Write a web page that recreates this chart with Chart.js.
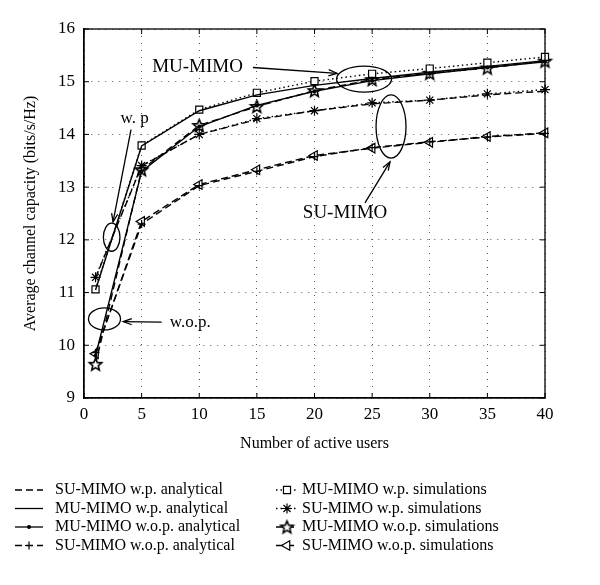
<!DOCTYPE html>
<html lang="en">
<head>
<meta charset="UTF-8">
<title>Average channel capacity vs number of active users</title>
<script src="https://cdn.jsdelivr.net/npm/chart.js"></script>
<style>
  body { margin: 0; background: #fff; }
  #wrap { width: 600px; height: 585px; position: relative; }
</style>
</head>
<body>
<div id="wrap"><canvas id="capacityChart"></canvas></div>
<script>
// values
const users = [1, 5, 10, 15, 20, 25, 30, 35, 40]
const xTicks = [0, 5, 10, 15, 20, 25, 30, 35, 40]
const yTicks = [9, 10, 11, 12, 13, 14, 15, 16]

const suWpAnalytical = [11.28, 13.40, 14.00, 14.28, 14.45, 14.58, 14.65, 14.75, 14.82]
const muWpAnalytical = [11.05, 13.78, 14.45, 14.75, 14.93, 15.06, 15.18, 15.29, 15.40]
const muWopAnalytical = [9.80, 13.30, 14.15, 14.55, 14.82, 15.02, 15.15, 15.27, 15.38]
const suWopAnalytical = [9.86, 12.30, 13.03, 13.30, 13.58, 13.75, 13.86, 13.95, 14.02]
const muWpSim = [11.06, 13.79, 14.47, 14.79, 15.01, 15.15, 15.25, 15.36, 15.47]
const suWpSim = [11.29, 13.41, 14.00, 14.30, 14.45, 14.60, 14.65, 14.77, 14.85]
const muWopSim = [9.64, 13.33, 14.17, 14.53, 14.83, 15.04, 15.16, 15.26, 15.39]
const suWopSim = [9.84, 12.35, 13.05, 13.33, 13.60, 13.74, 13.85, 13.96, 14.03]

const seriesLabels = [
  "SU-MIMO w.p. analytical",
  "MU-MIMO w.p. analytical",
  "MU-MIMO w.o.p. analytical",
  "SU-MIMO w.o.p. analytical",
  "MU-MIMO w.p. simulations",
  "SU-MIMO w.p. simulations",
  "MU-MIMO w.o.p. simulations",
  "SU-MIMO w.o.p. simulations",
]

const SERIF = "'Liberation Serif', 'DejaVu Serif', serif"
const DASH = [7, 4]
const DOT = [1.5, 3]

// five pointed star outline, used as a point image
function starImage(r) {
  const c = document.createElement("canvas")
  const s = Math.ceil(r * 2 + 4)
  c.width = s
  c.height = s
  const g = c.getContext("2d")
  g.beginPath()
  for (let i = 0; i < 10; i++) {
    const rr = i % 2 ? r * 0.45 : r
    const a = -Math.PI / 2 + (i * Math.PI) / 5
    g.lineTo(s / 2 + rr * Math.cos(a), s / 2 + 0.5 + rr * Math.sin(a))
  }
  g.closePath()
  g.fillStyle = "#fff"
  g.fill()
  g.lineWidth = 1.6
  g.lineJoin = "miter"
  g.strokeStyle = "#000"
  g.stroke()
  return c
}

const toPoints = (ys) => users.map((x, i) => ({ x, y: ys[i] }))

function series(label, ys, dash, pointStyle, radius, extra = {}) {
  return {
    label,
    data: toPoints(ys),
    borderColor: "#000",
    backgroundColor: "#fff",
    borderWidth: 1.4,
    borderDash: dash,
    pointStyle: pointStyle || false,
    pointRadius: pointStyle ? radius : 0,
    pointBorderColor: "#000",
    pointBackgroundColor: "#fff",
    pointBorderWidth: 1.2,
    tension: 0,
    clip: false,
    ...extra,
  }
}

const star = starImage(6.5)

const datasets = [
  series(seriesLabels[0], suWpAnalytical, DASH, null, 0),
  series(seriesLabels[1], muWpAnalytical, [], null, 0),
  series(seriesLabels[2], muWopAnalytical, [], "circle", 1.4, { pointBackgroundColor: "#000" }),
  series(seriesLabels[3], suWopAnalytical, DASH, "cross", 4),
  series(seriesLabels[4], muWpSim, DOT, "rect", 5),
  series(seriesLabels[5], suWpSim, DOT, "star", 5),
  series(seriesLabels[6], muWopSim, DASH, star, 6.5),
  series(seriesLabels[7], suWopSim, DASH, "triangle", 5.5, { pointRotation: -90 }),
]

// closes the frame and puts the small inward ticks on all four sides
const frame = {
  id: "frame",
  afterDatasetsDraw(chart) {
    const { ctx, chartArea: a, scales } = chart
    ctx.save()
    ctx.strokeStyle = "#000"
    ctx.lineWidth = 1.3
    ctx.setLineDash([])
    ctx.strokeRect(a.left, a.top, a.right - a.left, a.bottom - a.top)
    ctx.lineWidth = 1
    ctx.beginPath()
    xTicks.forEach((v) => {
      const px = scales.x.getPixelForValue(v)
      ctx.moveTo(px, a.bottom); ctx.lineTo(px, a.bottom - 5)
      ctx.moveTo(px, a.top); ctx.lineTo(px, a.top + 5)
    })
    yTicks.forEach((v) => {
      const py = scales.y.getPixelForValue(v)
      ctx.moveTo(a.left, py); ctx.lineTo(a.left + 5, py)
      ctx.moveTo(a.right, py); ctx.lineTo(a.right - 5, py)
    })
    ctx.stroke()
    ctx.restore()
  },
}

function arrow(ctx, x1, y1, x2, y2) {
  ctx.beginPath()
  ctx.moveTo(x1, y1)
  ctx.lineTo(x2, y2)
  ctx.stroke()
  const a = Math.atan2(y2 - y1, x2 - x1)
  const h = 9
  ctx.beginPath()
  ctx.moveTo(x2 - h * Math.cos(a - 0.35), y2 - h * Math.sin(a - 0.35))
  ctx.lineTo(x2, y2)
  ctx.lineTo(x2 - h * Math.cos(a + 0.35), y2 - h * Math.sin(a + 0.35))
  ctx.stroke()
}

// callouts, placed in data units
const callouts = {
  id: "callouts",
  afterDraw(chart) {
    const { ctx, scales } = chart
    const X = (v) => scales.x.getPixelForValue(v)
    const Y = (v) => scales.y.getPixelForValue(v)
    const ell = (cx, cy, rx, ry) => {
      const px = X(cx), py = Y(cy)
      ctx.beginPath()
      ctx.ellipse(px, py, X(cx + rx) - px, py - Y(cy + ry), 0, 0, Math.PI * 2)
      ctx.stroke()
    }
    ctx.save()
    ctx.strokeStyle = "#000"
    ctx.fillStyle = "#000"
    ctx.lineWidth = 1.3
    ctx.setLineDash([])
    ctx.textBaseline = "middle"

    ctx.font = "19px " + SERIF
    ctx.textAlign = "center"
    ctx.fillText("MU-MIMO", X(9.85), Y(15.27))
    ctx.fillText("SU-MIMO", X(22.65), Y(12.51))
    arrow(ctx, X(14.66), Y(15.27), X(21.95), Y(15.16))
    ell(24.3, 15.05, 2.39, 0.247)
    ell(26.64, 14.15, 1.3, 0.6)
    arrow(ctx, X(24.38), Y(12.7), X(26.55), Y(13.48))

    ctx.font = "17px " + SERIF
    ctx.fillText("w. p", X(4.4), Y(14.3))
    arrow(ctx, X(4.08), Y(14.09), X(2.52), Y(12.34))
    ell(2.4, 12.05, 0.72, 0.266)

    ctx.textAlign = "left"
    ctx.fillText("w.o.p.", X(7.45), Y(10.43))
    arrow(ctx, X(6.74), Y(10.44), X(3.41), Y(10.45))
    ell(1.78, 10.5, 1.39, 0.209)
    ctx.restore()
  },
}

// two column legend below the axes, filled column by column
const legendBelow = {
  id: "legendBelow",
  afterDraw(chart) {
    const { ctx } = chart
    const rowY = [490, 508.5, 527, 545.5]
    ctx.save()
    ctx.font = "16px " + SERIF
    ctx.textBaseline = "middle"
    ctx.textAlign = "left"
    chart.data.datasets.forEach((ds, i) => {
      const col = i < 4 ? 0 : 1
      const y = rowY[i % 4]
      const x0 = col ? 276 : 15
      const x1 = col ? 298 : 43
      const tx = col ? 302 : 55
      ctx.strokeStyle = "#000"
      ctx.lineWidth = 1.3
      ctx.setLineDash(ds.borderDash || [])
      ctx.beginPath()
      ctx.moveTo(x0, y)
      ctx.lineTo(x1, y)
      ctx.stroke()
      ctx.setLineDash([])
      if (ds.pointStyle) {
        ctx.fillStyle = ds.pointBackgroundColor
        ctx.strokeStyle = "#000"
        ctx.lineWidth = 1.2
        Chart.helpers.drawPoint(ctx, {
          pointStyle: ds.pointStyle,
          radius: ds.pointRadius,
          rotation: ds.pointRotation || 0,
          borderWidth: 1.2,
        }, (x0 + x1) / 2, y)
      }
      ctx.fillStyle = "#000"
      ctx.fillText(ds.label, tx, y)
    })
    ctx.restore()
  },
}

const ctx = document.getElementById("capacityChart").getContext("2d")
const capacityChart = new Chart(ctx, {
  type: "line",
  data: { datasets },
  options: {
    responsive: true,
    maintainAspectRatio: false,
    animation: false,
    events: [],
    layout: { padding: { top: 29, right: 55, bottom: 127, left: 0 } },
    plugins: { legend: { display: false }, tooltip: { enabled: false } },
    scales: {
      x: {
        type: "linear",
        min: 0,
        max: 40,
        afterFit: (s) => { s.height = 60 },
        afterBuildTicks: (s) => { s.ticks = xTicks.map((v) => ({ value: v })) },
        ticks: { color: "#000", padding: 6, font: { family: SERIF, size: 17 } },
        grid: { color: "#555", lineWidth: 1, drawTicks: false },
        border: { display: true, color: "#000", width: 1.3, dash: [1, 6] },
        title: {
          display: true,
          text: "Number of active users",
          color: "#000",
          font: { family: SERIF, size: 16 },
          padding: { top: 0, bottom: 5 },
        },
      },
      y: {
        type: "linear",
        min: 9,
        max: 16,
        afterFit: (s) => { s.width = 84 },
        afterBuildTicks: (s) => { s.ticks = yTicks.map((v) => ({ value: v })) },
        ticks: { color: "#000", padding: 9, font: { family: SERIF, size: 17 } },
        grid: { color: "#555", lineWidth: 1, drawTicks: false },
        border: { display: true, color: "#000", width: 1.3, dash: [1, 6] },
        title: {
          display: true,
          text: "Average channel capacity (bits/s/Hz)",
          color: "#000",
          font: { family: SERIF, size: 16 },
          padding: { top: 21, bottom: 0 },
        },
      },
    },
  },
  plugins: [frame, callouts, legendBelow],
})
</script>
</body>
</html>
